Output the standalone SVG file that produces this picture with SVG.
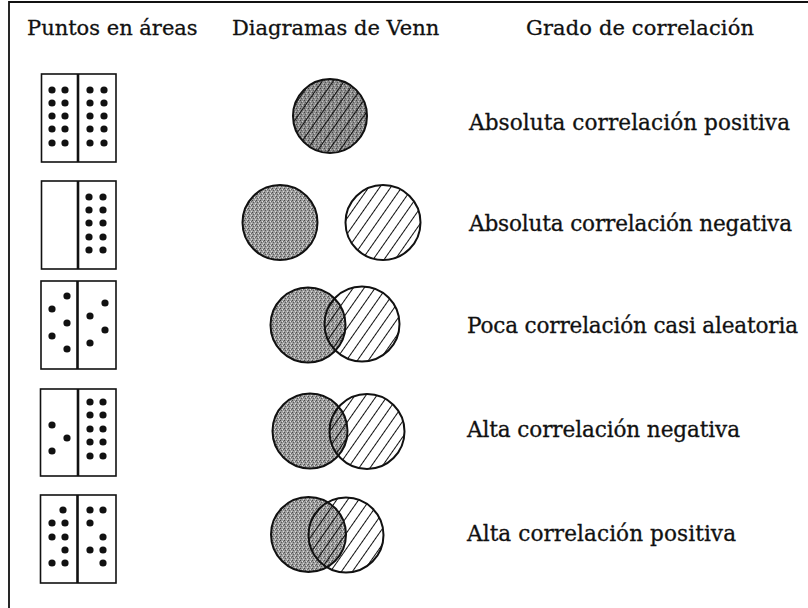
<svg xmlns="http://www.w3.org/2000/svg" width="808" height="608" viewBox="0 0 808 608">
<style>
text{font-family:"DejaVu Serif","Liberation Serif",serif;font-size:21.6px;fill:#111;stroke:#111;stroke-width:0.3}
.hd{font-size:21px}
.box{fill:#fff;stroke:#111;stroke-width:1.6}
.div{stroke:#111;stroke-width:2.6}
.dot circle{fill:#111}
.ol{fill:none;stroke:#111;stroke-width:2}
.frame{stroke:#111;stroke-width:1.8;fill:none}
</style>
<defs>
<pattern id="stip" width="4" height="4" patternUnits="userSpaceOnUse">
<rect width="4" height="4" fill="#9c9c9c"/>
<rect x="0" y="0" width="1" height="1" fill="#4a4a4a"/>
<rect x="2" y="1" width="1" height="1" fill="#e0e0e0"/>
<rect x="1" y="2" width="1" height="1" fill="#5a5a5a"/>
<rect x="3" y="3" width="1" height="1" fill="#d8d8d8"/>
<rect x="3" y="1" width="1" height="1" fill="#6a6a6a"/>
</pattern>
<pattern id="stipd" width="4" height="4" patternUnits="userSpaceOnUse">
<rect width="4" height="4" fill="#8a8a8a"/>
<rect x="0" y="0" width="1" height="1" fill="#444"/>
<rect x="2" y="1" width="1" height="1" fill="#c8c8c8"/>
<rect x="1" y="2" width="1" height="1" fill="#555"/>
<rect x="3" y="3" width="1" height="1" fill="#bbb"/>
</pattern>
<pattern id="hatch" width="9" height="10" patternUnits="userSpaceOnUse" patternTransform="rotate(35)">
<line x1="4.5" y1="0" x2="4.5" y2="10" stroke="#111" stroke-width="1"/>
</pattern>
</defs>

<path class="frame" d="M9,608 V2 H808"/>

<g id="headers">
<text class="hd" x="27" y="35">Puntos en áreas</text>
<text class="hd" x="232" y="35">Diagramas de Venn</text>
<text class="hd" x="526" y="35" textLength="228">Grado de correlación</text>
</g>

<g id="row1">
<rect class="box" x="41.5" y="74" width="74.5" height="88"/>
<line class="div" x1="78" y1="74" x2="78" y2="162"/>
<g class="dot">
<circle cx="52" cy="90" r="3.6"/><circle cx="65" cy="90" r="3.6"/><circle cx="90" cy="90" r="3.6"/><circle cx="104" cy="90" r="3.6"/>
<circle cx="52" cy="103" r="3.6"/><circle cx="65" cy="103" r="3.6"/><circle cx="90" cy="103" r="3.6"/><circle cx="104" cy="103" r="3.6"/>
<circle cx="52" cy="116" r="3.6"/><circle cx="65" cy="116" r="3.6"/><circle cx="90" cy="116" r="3.6"/><circle cx="104" cy="116" r="3.6"/>
<circle cx="52" cy="129" r="3.6"/><circle cx="65" cy="129" r="3.6"/><circle cx="90" cy="129" r="3.6"/><circle cx="104" cy="129" r="3.6"/>
<circle cx="52" cy="143" r="3.6"/><circle cx="65" cy="143" r="3.6"/><circle cx="90" cy="143" r="3.6"/><circle cx="104" cy="143" r="3.6"/>
</g>
<circle cx="330" cy="116" r="37" fill="url(#stipd)"/>
<circle cx="330" cy="116" r="37" fill="url(#hatch)"/>
<circle class="ol" cx="330" cy="116" r="37"/>
<text x="469" y="130" textLength="321">Absoluta correlación positiva</text>
</g>

<g id="row2">
<rect class="box" x="41.5" y="181" width="74.5" height="88"/>
<line class="div" x1="78" y1="181" x2="78" y2="269"/>
<g class="dot">
<circle cx="89" cy="197" r="3.6"/><circle cx="103" cy="197" r="3.6"/>
<circle cx="89" cy="210" r="3.6"/><circle cx="103" cy="210" r="3.6"/>
<circle cx="89" cy="223" r="3.6"/><circle cx="103" cy="223" r="3.6"/>
<circle cx="89" cy="237" r="3.6"/><circle cx="103" cy="237" r="3.6"/>
<circle cx="89" cy="250" r="3.6"/><circle cx="103" cy="250" r="3.6"/>
</g>
<circle cx="280" cy="222.5" r="37.5" fill="url(#stip)"/>
<circle class="ol" cx="280" cy="222.5" r="37.5"/>
<circle cx="383" cy="222.5" r="37.5" fill="url(#hatch)"/>
<circle class="ol" cx="383" cy="222.5" r="37.5"/>
<text x="469" y="231" textLength="323">Absoluta correlación negativa</text>
</g>

<g id="row3">
<rect class="box" x="41" y="281" width="75" height="88"/>
<line class="div" x1="77.5" y1="281" x2="77.5" y2="369"/>
<g class="dot">
<circle cx="67" cy="296" r="3.6"/><circle cx="52" cy="309" r="3.6"/><circle cx="67" cy="323" r="3.6"/><circle cx="52" cy="336" r="3.6"/><circle cx="67" cy="349" r="3.6"/>
<circle cx="105" cy="303" r="3.6"/><circle cx="90" cy="316" r="3.6"/><circle cx="105" cy="330" r="3.6"/><circle cx="90" cy="343" r="3.6"/>
</g>
<circle cx="308" cy="325" r="37.5" fill="url(#stip)"/>
<circle cx="362" cy="324" r="37.5" fill="url(#hatch)"/>
<circle class="ol" cx="308" cy="325" r="37.5"/>
<circle class="ol" cx="362" cy="324" r="37.5"/>
<text x="467" y="333" textLength="331">Poca correlación casi aleatoria</text>
</g>

<g id="row4">
<rect class="box" x="40.5" y="389" width="75.5" height="87"/>
<line class="div" x1="78" y1="389" x2="78" y2="476"/>
<g class="dot">
<circle cx="52" cy="425" r="3.6"/><circle cx="67" cy="438" r="3.6"/><circle cx="52" cy="451" r="3.6"/>
<circle cx="90" cy="402" r="3.6"/><circle cx="103" cy="402" r="3.6"/>
<circle cx="90" cy="415" r="3.6"/><circle cx="103" cy="415" r="3.6"/>
<circle cx="90" cy="429" r="3.6"/><circle cx="103" cy="429" r="3.6"/>
<circle cx="90" cy="442" r="3.6"/><circle cx="103" cy="442" r="3.6"/>
<circle cx="90" cy="456" r="3.6"/><circle cx="103" cy="456" r="3.6"/>
</g>
<circle cx="310" cy="431" r="37.5" fill="url(#stip)"/>
<circle cx="367" cy="431.5" r="37.5" fill="url(#hatch)"/>
<circle class="ol" cx="310" cy="431" r="37.5"/>
<circle class="ol" cx="367" cy="431.5" r="37.5"/>
<text x="467" y="437" textLength="273">Alta correlación negativa</text>
</g>

<g id="row5">
<rect class="box" x="40.5" y="495" width="75.5" height="88"/>
<line class="div" x1="77.5" y1="495" x2="77.5" y2="583"/>
<g class="dot">
<circle cx="63" cy="510" r="3.6"/>
<circle cx="52" cy="523" r="3.6"/><circle cx="65" cy="523" r="3.6"/>
<circle cx="52" cy="537" r="3.6"/><circle cx="65" cy="537" r="3.6"/>
<circle cx="65" cy="550" r="3.6"/>
<circle cx="52" cy="563" r="3.6"/><circle cx="65" cy="563" r="3.6"/>
<circle cx="90" cy="510" r="3.6"/><circle cx="103" cy="510" r="3.6"/>
<circle cx="90" cy="523" r="3.6"/>
<circle cx="103" cy="537" r="3.6"/>
<circle cx="90" cy="550" r="3.6"/><circle cx="103" cy="550" r="3.6"/>
<circle cx="103" cy="563" r="3.6"/>
</g>
<circle cx="308.5" cy="534.5" r="37.5" fill="url(#stip)"/>
<circle cx="346" cy="535" r="37.5" fill="url(#hatch)"/>
<circle class="ol" cx="308.5" cy="534.5" r="37.5"/>
<circle class="ol" cx="346" cy="535" r="37.5"/>
<text x="467" y="541" textLength="269">Alta correlación positiva</text>
</g>
</svg>
